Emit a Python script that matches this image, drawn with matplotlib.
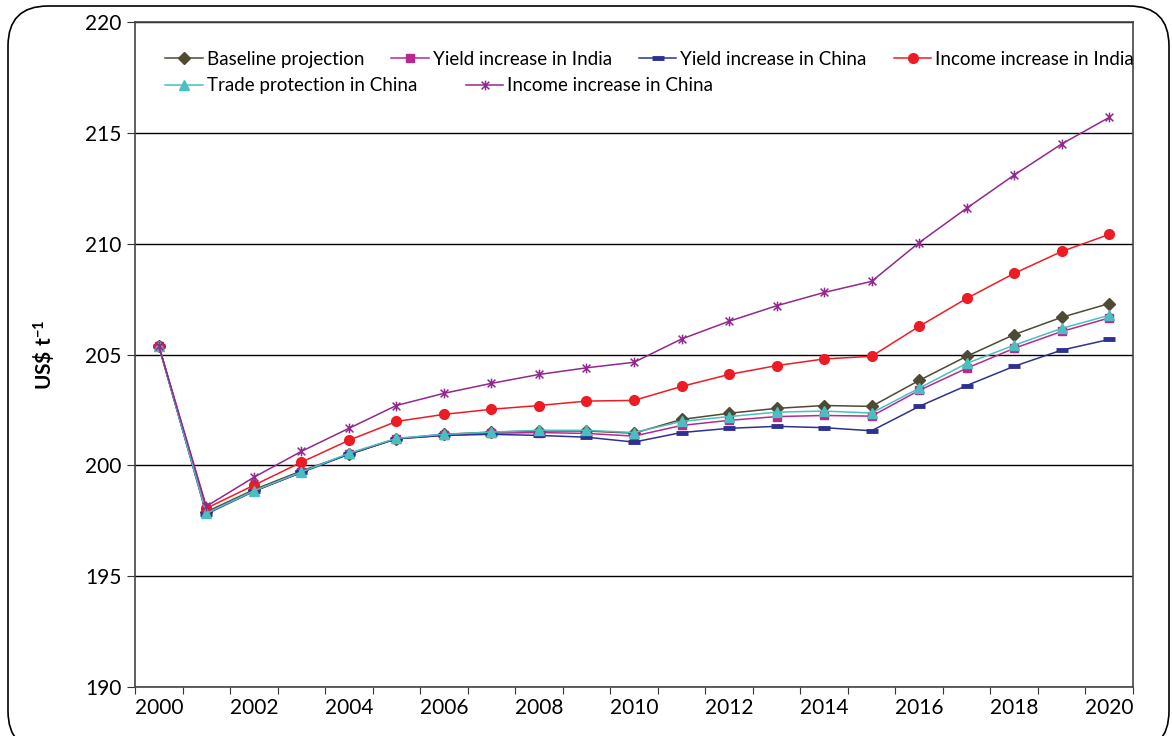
import matplotlib.pyplot as plt
import numpy as np
from matplotlib.path import Path
from matplotlib.patches import FancyBboxPatch

plt.rcParams['font.family'] = ['Lato', 'DejaVu Sans']
plt.rcParams['mathtext.fontset'] = 'custom'
plt.rcParams['mathtext.rm'] = 'Lato'
plt.rcParams['mathtext.bf'] = 'Lato:bold'

years = list(range(2000, 2021))

baseline = [205.4, 197.9, 198.9, 199.75, 200.5, 201.2, 201.4, 201.5, 201.55, 201.55, 201.45,
            202.07, 202.35, 202.57, 202.7, 202.66, 203.83, 204.92, 205.9, 206.68, 207.3]
yield_india = [205.4, 197.85, 198.83, 199.68, 200.52, 201.2, 201.35, 201.45, 201.48, 201.44, 201.32,
               201.8, 202.03, 202.2, 202.25, 202.22, 203.38, 204.38, 205.28, 206.04, 206.65]
yield_china = [205.4, 197.8, 198.83, 199.68, 200.5, 201.2, 201.35, 201.4, 201.35, 201.27, 201.05,
               201.48, 201.67, 201.76, 201.7, 201.56, 202.66, 203.6, 204.47, 205.2, 205.68]
income_india = [205.4, 198.06, 199.1, 200.14, 201.13, 201.98, 202.3, 202.53, 202.7, 202.9, 202.93,
                203.56, 204.1, 204.5, 204.8, 204.92, 206.27, 207.53, 208.66, 209.65, 210.42]
trade_china = [205.4, 197.83, 198.85, 199.7, 200.54, 201.22, 201.4, 201.5, 201.58, 201.58, 201.48,
               201.98, 202.2, 202.4, 202.45, 202.36, 203.48, 204.6, 205.42, 206.18, 206.77]
income_china = [205.4, 198.15, 199.46, 200.63, 201.67, 202.7, 203.25, 203.7, 204.1, 204.4, 204.65,
                205.7, 206.5, 207.2, 207.8, 208.3, 210.05, 211.6, 213.1, 214.5, 215.7]

# excel style star marker: vertical bar plus an x
star = Path([(0, -1), (0, 1), (-0.8, -0.8), (0.8, 0.8), (-0.8, 0.8), (0.8, -0.8)],
            [Path.MOVETO, Path.LINETO, Path.MOVETO, Path.LINETO, Path.MOVETO, Path.LINETO])

fig = plt.figure(figsize=(11.72, 7.36), dpi=100)
ax = fig.add_axes([0.1152, 0.0666, 0.8515, 0.9034])

# rounded frame around the whole chart (inches)
frame = FancyBboxPatch((0.08, -0.15), 11.61, 7.45,
                       boxstyle="round,pad=0,rounding_size=0.4",
                       transform=fig.dpi_scale_trans, fill=False, ec='black', lw=1.2,
                       clip_on=False)
fig.patches.append(frame)

x = np.arange(len(years))
l1, = ax.plot(x, baseline, color='#4f4a33', lw=1.1, marker='D', ms=6, label='Baseline projection')
l2, = ax.plot(x, yield_india, color='#b8288f', lw=1.1, marker='s', ms=6, label='Yield increase in India')
l3, = ax.plot(x, yield_china, color='#2e3192', lw=1.1, marker='_', ms=9, mew=3.5, label='Yield increase in China')
l4, = ax.plot(x, income_india, color='#ed1c24', lw=1.1, marker='o', ms=7, label='Income increase in India')
l5, = ax.plot(x, trade_china, color='#4bbfbf', lw=1.1, marker='^', ms=7, label='Trade protection in China')
l6, = ax.plot(x, income_china, color='#93278f', lw=1.1, marker=star, ms=7, mew=1.1, fillstyle='none',
              label='Income increase in China')

ax.set_xlim(-0.5, 20.5)
ax.set_ylim(190, 220)
ax.set_yticks(np.arange(190, 221, 5))
ax.yaxis.grid(True, color='black', lw=1)
ax.set_axisbelow(True)

ax.set_xticks(np.arange(-0.5, 21, 1))
ax.set_xticklabels([])
ax.set_xticks(np.arange(0, 21, 2), minor=True)
ax.set_xticklabels([str(y) for y in years[::2]], minor=True)
ax.tick_params(axis='x', which='major', direction='out', length=5, color='#333333')
ax.tick_params(axis='x', which='minor', length=0, pad=8, labelsize=15)
ax.tick_params(axis='y', direction='out', length=6, labelsize=15, color='#333333')

for s in ax.spines.values():
    s.set_color('#444444')
    s.set_linewidth(1.2)

ax.set_ylabel('US\\$ $\\mathbf{t^{-1}}$', fontsize=15, fontweight='bold', labelpad=20)

leg1 = ax.legend(handles=[l1, l2, l3, l4], ncol=4, loc='upper left', bbox_to_anchor=(0.023, 0.968),
                 frameon=False, fontsize=13.5, handlelength=2.0, handletextpad=0.2,
                 columnspacing=1.45, borderaxespad=0)
ax.add_artist(leg1)
ax.legend(handles=[l5, l6], ncol=2, loc='upper left', bbox_to_anchor=(0.023, 0.928),
          frameon=False, fontsize=13.5, handlelength=2.0, handletextpad=0.2,
          columnspacing=2.6, borderaxespad=0)

fig.savefig('out.png', dpi=100)
